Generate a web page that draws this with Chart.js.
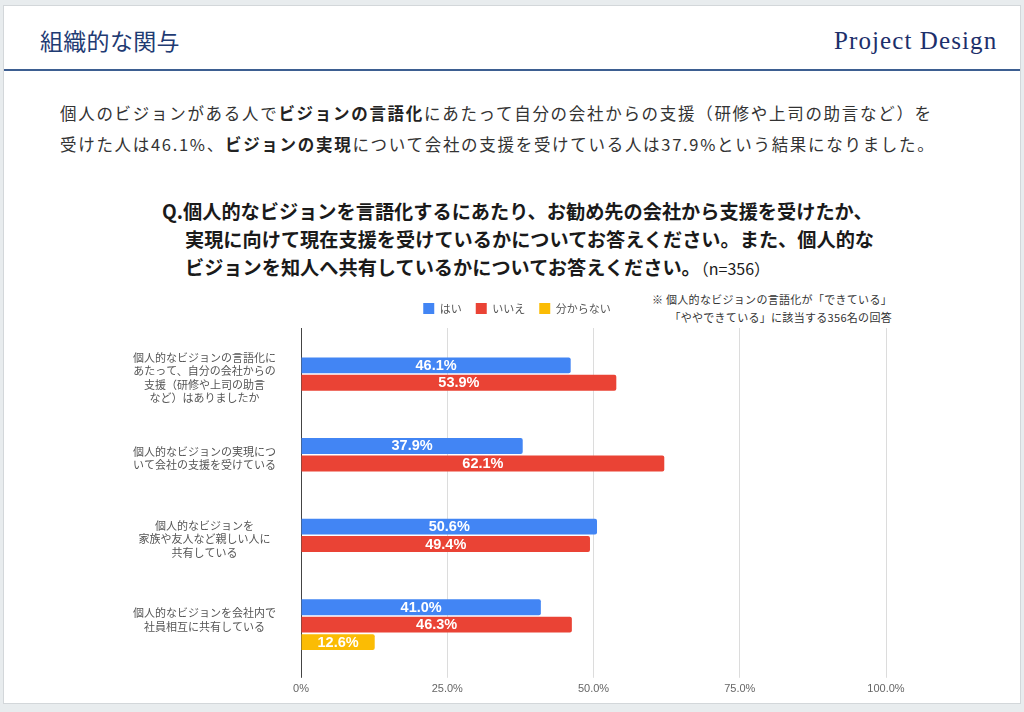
<!DOCTYPE html>
<html lang="ja">
<head>
<meta charset="UTF-8">
<title>組織的な関与</title>
<script src="https://cdn.jsdelivr.net/npm/chart.js@4.4.1/dist/chart.umd.min.js"></script>
<style>
    html, body { margin: 0; padding: 0; }
    body {
        width: 1024px;
        height: 712px;
        background: #e8ecee;
        position: relative;
        overflow: hidden;
        font-family: "Noto Sans CJK JP", sans-serif;
    }
    .card {
        position: absolute;
        left: 3px;
        top: 5px;
        width: 1016px;
        height: 697px;
        background: #fff;
        border: 1px solid #d3d7da;
    }
    .head-title {
        position: absolute;
        left: 36px;
        top: 17px;
        font-size: 23px;
        color: #1f3b73;
        letter-spacing: 0.3px;
    }
    .logo {
        position: absolute;
        left: 830px;
        top: 21px;
        font-family: "Liberation Serif", "DejaVu Serif", serif;
        font-size: 25px;
        color: #1c2f6b;
        letter-spacing: 1.1px;
    }
    .head-line {
        position: absolute;
        left: 0;
        top: 63px;
        width: 1016px;
        height: 2px;
        background: #3d5e91;
    }
    .lead {
        position: absolute;
        left: 60px;
        top: 98px;
        font-size: 16.5px;
        line-height: 31px;
        color: #333;
        white-space: nowrap;
        letter-spacing: 1.7px;
    }
    .lead b { color: #222; }
    .question {
        position: absolute;
        left: 162px;
        top: 197px;
        font-size: 19.2px;
        font-weight: bold;
        line-height: 28px;
        color: #1a1a1a;
        white-space: nowrap;
    }
    .question .ind { padding-left: 23px; }
    .question small { font-size: 16px; font-weight: normal; }
    .note {
        position: absolute;
        right: 132px;
        top: 290px;
        font-size: 11px;
        line-height: 18px;
        color: #333;
        text-align: right;
        white-space: nowrap;
        letter-spacing: 0.3px;
    }
    #chart {
        position: absolute;
        left: 120px;
        top: 289px;
    }
</style>
</head>
<body>
<div class="card">
    <div class="head-title">組織的な関与</div>
    <div class="logo">Project Design</div>
    <div class="head-line"></div>
</div>
<div class="lead">
    個人のビジョンがある人で<b>ビジョンの言語化</b>にあたって自分の会社からの支援（研修や上司の助言など）を<br>
    受けた人は46.1%、<b>ビジョンの実現</b>について会社の支援を受けている人は37.9%という結果になりました。
</div>
<div class="question">
    <div>Q.個人的なビジョンを言語化するにあたり、お勧め先の会社から支援を受けたか、</div>
    <div class="ind">実現に向けて現在支援を受けているかについてお答えください。また、個人的な</div>
    <div class="ind">ビジョンを知人へ共有しているかについてお答えください。<small>（n=356）</small></div>
</div>
<div class="note">
    ※ 個人的なビジョンの言語化が「できている」<br>
    「ややできている」に該当する356名の回答
</div>
<canvas id="chart" width="796" height="412"></canvas>

<script>
    // 質問項目（複数行ラベル）
    const categories = [
        ['個人的なビジョンの言語化に', 'あたって、自分の会社からの', '支援（研修や上司の助言', 'など）はありましたか'],
        ['個人的なビジョンの実現につ', 'いて会社の支援を受けている'],
        ['個人的なビジョンを', '家族や友人など親しい人に', '共有している'],
        ['個人的なビジョンを会社内で', '社員相互に共有している']
    ];
    const seriesNames = ['はい', 'いいえ', '分からない'];
    const yesValues = [46.1, 37.9, 50.6, 41.0];
    const noValues = [53.9, 62.1, 49.4, 46.3];
    const unknownValues = [null, null, null, 12.6];
    const xTicks = [0, 25, 50, 75, 100];

    const colors = ['#4285f4', '#ea4335', '#fbbc04'];

    // バーの中央に値を表示
    const barLabels = {
        id: 'barLabels',
        afterDatasetsDraw(chart) {
            const ctx = chart.ctx;
            ctx.save();
            ctx.font = 'bold 14.5px "Liberation Sans", Arial, sans-serif';
            ctx.fillStyle = '#fff';
            ctx.textAlign = 'center';
            ctx.textBaseline = 'middle';
            chart.data.datasets.forEach((ds, i) => {
                chart.getDatasetMeta(i).data.forEach((bar, j) => {
                    const v = ds.data[j];
                    if (v === null || v === 0) return;
                    ctx.fillText(v.toFixed(1) + '%', (bar.x + bar.base) / 2, bar.y + 0.5);
                });
            });
            ctx.restore();
        }
    };

    // 凡例の高さと左端を調整（グラフ全体の中央に寄せる）
    const legendBox = {
        id: 'legendBox',
        beforeUpdate(chart) {
            if (!chart.legend || chart.legend._patched) return;
            const fit = chart.legend.fit;
            chart.legend.fit = function () {
                fit.call(this);
                this.height = 39;
            };
            chart.legend._patched = true;
        },
        afterLayout(chart) {
            chart.legend.left = 28;
        }
    };

    const chart = new Chart(document.getElementById('chart'), {
        type: 'bar',
        data: {
            labels: categories,
            datasets: [
                { label: seriesNames[0], data: yesValues, backgroundColor: colors[0] },
                { label: seriesNames[1], data: noValues, backgroundColor: colors[1] },
                { label: seriesNames[2], data: unknownValues, backgroundColor: colors[2] }
            ]
        },
        options: {
            indexAxis: 'y',
            responsive: false,
            animation: false,
            layout: { padding: { left: 0, right: 30, top: 0, bottom: 0 } },
            datasets: {
                bar: {
                    categoryPercentage: 0.65,
                    barPercentage: 0.91,
                    borderRadius: 2,
                    borderSkipped: 'start'
                }
            },
            plugins: {
                legend: {
                    position: 'top',
                    align: 'center',
                    labels: {
                        boxWidth: 11,
                        boxHeight: 11,
                        padding: 14,
                        color: '#555',
                        font: { size: 11, family: '"Noto Sans CJK JP", sans-serif' }
                    }
                },
                tooltip: { enabled: false }
            },
            scales: {
                x: {
                    min: 0,
                    max: 100,
                    afterBuildTicks(scale) {
                        scale.ticks = xTicks.map(v => ({ value: v }));
                    },
                    ticks: {
                        padding: 5,
                        color: '#666',
                        font: { size: 11, family: '"Liberation Sans", Arial, sans-serif' },
                        callback: v => v === 0 ? '0%' : v.toFixed(1) + '%'
                    },
                    grid: {
                        color: c => c.index === 0 ? '#444' : '#dcdcdc',
                        tickColor: c => c.index === 0 ? '#444' : '#dcdcdc',
                        tickLength: 8
                    },
                    border: { display: false }
                },
                y: {
                    afterFit(scale) {
                        scale.width = 181;
                        scale.paddingTop = 0;
                        scale.paddingBottom = 0;
                    },
                    afterBuildTicks(scale) {
                        // グラフ上下の余白（Google Chartsの配置に合わせる）
                        scale._startValue = -0.68;
                        scale._valueRange = 4.24;
                    },
                    ticks: {
                        crossAlign: 'center',
                        padding: 0,
                        labelOffset: -5,
                        color: '#555',
                        font: { size: 11, lineHeight: 1.22, family: '"Noto Sans CJK JP", sans-serif' }
                    },
                    grid: {
                        display: true,
                        drawOnChartArea: false,
                        drawTicks: true,
                        tickLength: 25,
                        tickColor: 'rgba(0,0,0,0)'
                    },
                    border: { display: true, color: '#444', width: 1 }
                }
            }
        },
        plugins: [barLabels, legendBox]
    });
</script>
</body>
</html>
